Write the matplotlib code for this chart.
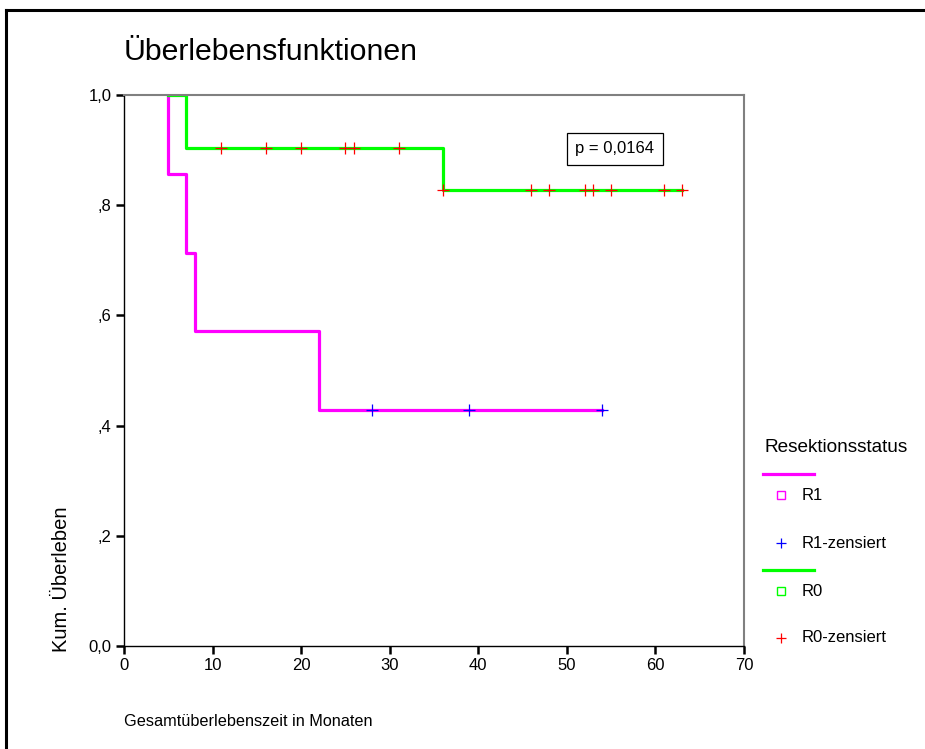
import numpy as np
import matplotlib.pyplot as plt
from matplotlib.lines import Line2D

plt.rcParams['font.family'] = ['Liberation Sans', 'DejaVu Sans']

# Kaplan-Meier Stufen (Zeit in Monaten, kum. Überleben)
r1_t = [5, 5, 7, 8, 22, 54]
r1_s = [1.0, 0.857, 0.714, 0.571, 0.429, 0.429]
r0_t = [5, 7, 36, 63]
r0_s = [1.0, 0.903, 0.828, 0.828]

# zensierte Fälle
r1_cens = [28, 39, 54]
r0_cens = [11, 16, 20, 25, 26, 31, 36, 46, 48, 52, 53, 55, 61, 63]

x_ticks = [0, 10, 20, 30, 40, 50, 60, 70]
y_ticks = [0.0, 0.2, 0.4, 0.6, 0.8, 1.0]
y_labels = ['0,0', ',2', ',4', ',6', ',8', '1,0']


def surv_at(t_list, s_list, times):
    t = np.array(t_list)
    s = np.array(s_list)
    idx = np.searchsorted(t, times, side='right') - 1
    return s[idx]


fig = plt.figure(figsize=(9.25, 7.49), dpi=100)
ax = fig.add_axes([124/925, 1-646/749, 620/925, 551/749])

ax.step(r1_t, r1_s, where='post', color='#ff00ff', lw=2.3)
ax.step(r0_t, r0_s, where='post', color='#00ff00', lw=2.3)
ax.plot(r1_cens, surv_at(r1_t, r1_s, r1_cens), '+', color='#0000ff',
        ms=9, mew=0.9, ls='none')
ax.plot(r0_cens, surv_at(r0_t, r0_s, r0_cens), '+', color='#ff0000',
        ms=9, mew=0.9, ls='none')

ax.set_xlim(0, 70)
ax.set_ylim(0, 1.0)
ax.set_xticks(x_ticks)
ax.set_yticks(y_ticks)
ax.set_yticklabels(y_labels)
ax.tick_params(direction='out', length=6, width=1.8, labelsize=12, pad=3)
for side in ['top', 'right']:
    ax.spines[side].set_color('#808080')
    ax.spines[side].set_linewidth(1.5)
for side in ['left', 'bottom']:
    ax.spines[side].set_color('black')
    ax.spines[side].set_linewidth(1.0)

# p-Wert Kasten
ax.text(55.4, 0.902, 'p = 0,0164', fontsize=12, ha='center', va='center',
        bbox=dict(boxstyle='square,pad=0.5', fc='white', ec='black', lw=0.9))

# Titel und Achsentitel
fig.text(124/925, 1-52/749, 'Überlebensfunktionen', fontsize=21.8, ha='left', va='center')
fig.text(62/925, 1-652/749, 'Kum. Überleben', fontsize=14.5, rotation=90,
         ha='center', va='bottom')
fig.text(124/925, 1-722/749, 'Gesamtüberlebenszeit in Monaten', fontsize=11.7,
         ha='left', va='center')

# Legende von Hand
fig.text(765/925, 1-448/749, 'Resektionsstatus', fontsize=13.7, ha='left', va='center')
leg_items = [
    ('line', '#ff00ff', None, 474),
    ('s', '#ff00ff', 'R1', 495),
    ('+', '#0000ff', 'R1-zensiert', 543),
    ('line', '#00ff00', None, 570),
    ('s', '#00ff00', 'R0', 591),
    ('+', '#ff0000', 'R0-zensiert', 638),
]
for kind, col, lab, py in leg_items:
    yy = 1 - py/749
    if kind == 'line':
        fig.add_artist(Line2D([763/925, 814/925], [yy, yy], color=col, lw=2.3,
                              transform=fig.transFigure))
    else:
        if kind == 's':
            fig.add_artist(Line2D([781/925], [yy], marker='s', ms=6, mfc='none',
                                  mec=col, mew=1.0, transform=fig.transFigure))
        else:
            fig.add_artist(Line2D([781/925], [yy], marker='+', ms=7, mec=col,
                                  mew=0.9, transform=fig.transFigure))
        fig.text(802/925, yy, lab, fontsize=12, ha='left', va='center')

# Rahmen links und oben
fig.add_artist(Line2D([6/925, 6/925], [0, 1-10/749], color='black', lw=2.2,
                      transform=fig.transFigure))
fig.add_artist(Line2D([6/925, 1], [1-10/749, 1-10/749], color='black', lw=2.2,
                      transform=fig.transFigure))

fig.savefig('out.png', dpi=100)
